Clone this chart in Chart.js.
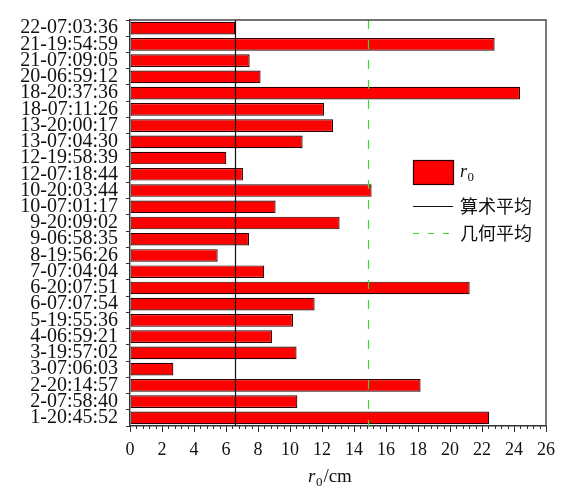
<!DOCTYPE html>
<html>
<head>
<meta charset="utf-8">
<script src="https://cdn.jsdelivr.net/npm/chart.js@4/dist/chart.umd.min.js"></script>
<style>
  html, body { margin: 0; padding: 0; background: #fff; }
  #wrap { width: 563px; height: 488px; }
</style>
</head>
<body>
<div id="wrap"><canvas id="c" width="563" height="488"></canvas></div>
<script>
// Observation times (day-hh:mm:ss), listed top to bottom
const categories = [
  '22-07:03:36', '21-19:54:59', '21-07:09:05', '20-06:59:12', '18-20:37:36',
  '18-07:11:26', '13-20:00:17', '13-07:04:30', '12-19:58:39', '12-07:18:44',
  '10-20:03:44', '10-07:01:17', '9-20:09:02', '9-06:58:35', '8-19:56:26',
  '7-07:04:04', '6-20:07:51', '6-07:07:54', '5-19:55:36', '4-06:59:21',
  '3-19:57:02', '3-07:06:03', '2-20:14:57', '2-07:58:40', '1-20:45:52'
];

// Fried parameter r0 in cm
const r0Values = [
  6.57, 22.79, 7.48, 8.16, 24.38,
  12.13, 12.69, 10.79, 6.02, 7.06,
  15.10, 9.10, 13.10, 7.44, 5.48,
  8.39, 21.23, 11.54, 10.19, 8.88,
  10.41, 2.71, 18.16, 10.46, 22.45
];

// Reference lines
const arithmeticMean = 6.55;
const geometricMean = 14.87;

// Axis range and ticks
const xMin = 0, xMax = 26, xMajorStep = 2, xMinorStep = 0.4;

// Legend entries
const legendLabels = ['r0', '算术平均', '几何平均'];

const SERIF = '"Liberation Serif", "Times New Roman", serif';
const CJK = '"Noto Sans CJK SC", sans-serif';
const BAR_FILL = '#ff0000';
const BAR_EDGE = '#2a0000';
const GREEN = '#2ee02e';

function drawR0(ctx, x, y, size) {
  // italic r with subscript 0
  ctx.font = 'italic ' + size + 'px ' + SERIF;
  ctx.textBaseline = 'alphabetic';
  ctx.textAlign = 'left';
  ctx.fillText('r', x, y);
  const w = ctx.measureText('r').width;
  ctx.font = Math.round(size * 0.7) + 'px ' + SERIF;
  ctx.fillText('0', x + w + 0.5, y + size * 0.22);
  return w + 0.5 + ctx.measureText('0').width;
}

const extras = {
  id: 'extras',
  afterDatasetsDraw(chart) {
    const { ctx, chartArea: a, scales } = chart;
    const xs = scales.x;
    ctx.save();

    // mean lines
    const xa = Math.round(xs.getPixelForValue(arithmeticMean)) + 0.5;
    ctx.strokeStyle = '#111';
    ctx.lineWidth = 1.2;
    ctx.beginPath(); ctx.moveTo(xa, a.top); ctx.lineTo(xa, a.bottom); ctx.stroke();

    const xg = Math.round(xs.getPixelForValue(geometricMean)) + 0.5;
    ctx.strokeStyle = GREEN;
    ctx.setLineDash([9, 11]);
    ctx.beginPath(); ctx.moveTo(xg, a.top); ctx.lineTo(xg, a.bottom); ctx.stroke();
    ctx.setLineDash([]);

    // frame (top and right)
    ctx.strokeStyle = '#444';
    ctx.lineWidth = 1.4;
    ctx.beginPath();
    ctx.moveTo(a.left, a.top); ctx.lineTo(a.right, a.top); ctx.lineTo(a.right, a.bottom);
    ctx.stroke();

    // minor ticks on x axis
    ctx.strokeStyle = '#333';
    ctx.lineWidth = 1;
    const nMinor = Math.round((xMax - xMin) / xMinorStep);
    for (let i = 0; i <= nMinor; i++) {
      const v = xMin + i * xMinorStep;
      const px = Math.round(xs.getPixelForValue(v)) + 0.5;
      ctx.beginPath(); ctx.moveTo(px, a.bottom); ctx.lineTo(px, a.bottom + 3); ctx.stroke();
    }

    // legend
    const lx = 413, ly = 160;
    ctx.fillStyle = BAR_FILL;
    ctx.fillRect(lx, ly, 40, 24);
    ctx.strokeStyle = BAR_EDGE;
    ctx.lineWidth = 1.2;
    ctx.strokeRect(lx + 0.5, ly + 0.5, 40, 24);
    ctx.fillStyle = '#111';
    drawR0(ctx, lx + 47, ly + 17, 18);

    ctx.strokeStyle = '#111';
    ctx.lineWidth = 1.2;
    ctx.beginPath(); ctx.moveTo(lx, 206.5); ctx.lineTo(lx + 40, 206.5); ctx.stroke();
    ctx.strokeStyle = GREEN;
    ctx.setLineDash([6, 9]);
    ctx.beginPath(); ctx.moveTo(lx, 233.5); ctx.lineTo(lx + 40, 233.5); ctx.stroke();
    ctx.setLineDash([]);

    ctx.fillStyle = '#111';
    ctx.font = '18px ' + CJK;
    ctx.textBaseline = 'middle';
    ctx.textAlign = 'left';
    ctx.fillText(legendLabels[1], lx + 47, 206);
    ctx.fillText(legendLabels[2], lx + 47, 233);

    // x axis title: r0/cm
    ctx.fillStyle = '#111';
    const tx = 308, ty = 482;
    const w = drawR0(ctx, tx, ty, 19);
    ctx.font = '19px ' + SERIF;
    ctx.textBaseline = 'alphabetic';
    ctx.fillText('/cm', tx + w + 1, ty);

    ctx.restore();
  }
};

new Chart(document.getElementById('c'), {
  type: 'bar',
  data: {
    labels: categories,
    datasets: [{
      label: legendLabels[0],
      data: r0Values,
      backgroundColor: BAR_FILL,
      borderColor: BAR_EDGE,
      borderWidth: 1.2,
      borderSkipped: false,
      barPercentage: 0.78,
      categoryPercentage: 1.0
    }]
  },
  options: {
    indexAxis: 'y',
    responsive: false,
    animation: false,
    devicePixelRatio: 1,
    layout: { padding: { left: 0, right: 17, top: 10, bottom: 0 } },
    plugins: { legend: { display: false }, tooltip: { enabled: false } },
    scales: {
      x: {
        type: 'linear',
        min: xMin, max: xMax,
        afterFit(scale) { scale.height = 62; },
        ticks: {
          stepSize: xMajorStep,
          color: '#111',
          font: { family: SERIF, size: 18 },
          padding: 7,
          maxRotation: 0
        },
        grid: { drawOnChartArea: false, drawTicks: true, tickLength: 6, color: '#333', lineWidth: 1 },
        border: { display: true, color: '#333', width: 1.4 }
      },
      y: {
        type: 'category',
        afterFit(scale) { scale.width = 130; },
        ticks: {
          color: '#111',
          font: { family: SERIF, size: 20 },
          padding: 8,
          autoSkip: false
        },
        grid: { offset: true, drawOnChartArea: false, drawTicks: true, tickLength: 4, color: '#333', lineWidth: 1 },
        border: { display: true, color: '#333', width: 1.4 }
      }
    }
  },
  plugins: [extras]
});
</script>
</body>
</html>
